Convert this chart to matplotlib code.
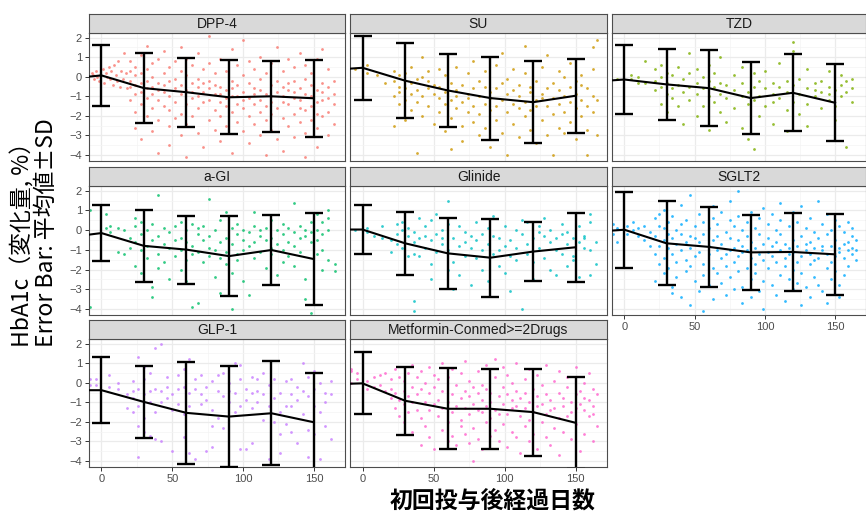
import matplotlib
matplotlib.use("Agg")
import matplotlib.pyplot as plt
import numpy as np

# ---------------- data ----------------
panels = ["DPP-4", "SU", "TZD", "a-GI", "Glinide", "SGLT2", "GLP-1", "Metformin-Conmed>=2Drugs"]
colors = ["#F8766D", "#CD9600", "#7CAE00", "#00BE67", "#00BFC4", "#00A9FF", "#C77CFF", "#FF61CC"]

bar_days = [0, 30, 60, 90, 120, 150]
line_days = [-10, 0, 30, 60, 90, 120, 150]

dpp4_mean = [0.0, 0.07, -0.58, -0.79, -1.05, -1.0, -1.1]
dpp4_sd = [1.55, 1.8, 1.77, 1.89, 1.83, 1.98]
su_mean = [0.41, 0.46, -0.2, -0.7, -1.09, -1.3, -0.97]
su_sd = [1.64, 1.93, 1.85, 2.12, 2.09, 1.9]
tzd_mean = [-0.19, -0.14, -0.39, -0.58, -1.09, -0.82, -1.33]
tzd_sd = [1.78, 1.82, 1.94, 1.86, 1.97, 1.98]
agi_mean = [-0.24, -0.15, -0.8, -0.99, -1.32, -1.01, -1.47]
agi_sd = [1.44, 1.81, 1.73, 2.03, 1.76, 2.35]
glinide_mean = [0.03, 0.03, -0.67, -1.18, -1.4, -1.09, -0.87]
glinide_sd = [1.26, 1.59, 1.79, 1.98, 1.5, 1.76]
sglt2_mean = [-0.03, 0.02, -0.67, -0.85, -1.13, -1.11, -1.23]
sglt2_sd = [1.92, 2.13, 2.02, 1.91, 1.98, 2.07]
glp1_mean = [-0.38, -0.38, -0.98, -1.54, -1.73, -1.56, -2.02]
glp1_sd = [1.68, 1.85, 2.6, 2.6, 2.67, 2.52]
metf_mean = [-0.05, -0.03, -0.92, -1.33, -1.33, -1.5, -2.05]
metf_sd = [1.59, 1.75, 2.08, 2.04, 2.23, 2.37]

# individual observations: column day positions and the values seen in each column
dpp4_cols = [-7, -6, -5, -4, -3, -2, -1, 1, 2, 3, 4, 5, 6, 7, 8, 9, 10, 11, 12, 13, 14, 15, 16, 17, 18,
             20, 24, 28, 32, 36, 40, 44, 48, 52, 56, 60, 64, 68, 72, 76, 80, 84, 88, 92, 96, 100, 104,
             108, 112, 116, 120, 124, 128, 132, 136, 140, 144, 148, 152, 156, 160, 164]
dpp4_vals = [[0.2], [0.1], [-0.1], [0.3], [0.0], [-0.2], [0.1], [0.4], [-0.3], [0.2], [0.0], [0.5], [-0.1],
             [0.3], [-0.4], [0.6], [0.1], [-0.2], [0.8], [-0.5], [0.3], [-0.1], [1.2], [0.2], [-0.6],
             [0.3, -0.5, -1.2, 0.8, -0.2], [-0.4, 0.5, -1.8, -0.9, 0.1, -2.6],
             [1.1, -0.3, -0.8, -1.4, -3.2, 0.2], [-0.6, 0.4, -1.1, -2.0, 1.6, -0.2],
             [-0.9, 0.0, -1.6, 0.7, -2.8, -0.5], [-0.3, -1.2, 0.9, -2.2, -0.7, -3.9],
             [0.2, -0.8, -1.5, 1.3, -0.4], [-1.0, -0.2, -2.5, 0.5, -1.7, -3.5],
             [-0.6, 0.8, -1.3, -0.1, -2.1], [-0.9, 0.3, -1.9, -3.0, 1.5, -0.4],
             [-0.7, -1.4, 0.1, -2.4, 0.9, -4.1], [-1.1, -0.3, -2.0, 0.6, -0.8],
             [-0.5, -1.6, 1.2, -2.9, -0.1, -1.0], [-0.8, 0.4, -1.3, -3.6, -0.3],
             [-1.2, -0.2, -2.2, 0.7, -0.6, 2.1], [-0.9, 0.2, -1.7, -2.7, -0.4],
             [-1.3, -0.5, 0.9, -2.0, -3.3, -0.9], [-0.7, -1.5, 0.3, -2.5, -1.1],
             [-1.0, -0.2, -1.8, 1.4, -3.9, -0.6], [-1.4, -0.4, 0.6, -2.3, -1.0],
             [-0.8, -1.6, 0.1, -2.8, -1.2, 1.9], [-1.1, -0.3, -2.0, 0.8, -3.4],
             [-0.6, -1.4, -2.4, 0.4, -0.9], [-1.2, -0.1, -1.8, -3.0, 1.0, -0.7],
             [-0.9, -1.5, 0.2, -2.2, -4.0], [-1.0, -0.4, -1.9, 0.7, -2.7, -1.3],
             [-0.8, -1.6, -0.2, 1.5, -3.2], [-1.3, -0.5, -2.1, 0.3, -1.0, -3.8],
             [-0.7, -1.4, 0.9, -2.5, -0.3], [-1.1, -0.2, -1.9, -3.1, 0.5, -0.8],
             [-1.2, -0.6, -2.3, 1.2, -1.6], [-0.9, -0.1, -1.7, -2.9, 0.6, -4.1],
             [-1.0, -1.5, -0.4, -2.2, 0.2], [-1.3, -0.7, -2.6, 0.9, -1.9, -3.6],
             [-0.8, -1.2, -0.3, -2.0, 1.4], [-1.1, -0.5, -1.8, -3.0, 0.4], [-0.9, -0.2, -1.4, -2.4]]

su_cols = [-5, 3, 10, 16, 22, 26, 30, 34, 38, 42, 46, 50, 54, 58, 62, 66, 70, 74, 78, 82, 86, 90, 94, 98,
           102, 106, 110, 114, 118, 122, 126, 130, 134, 138, 142, 146, 150, 154, 158, 162, 165]
su_vals = [[0.4], [0.2, 0.6], [0.1], [-0.3], [-0.2, 0.3, -1.0, -2.5], [-0.5, 0.1, -1.4, -0.8],
           [0.2, -0.6, -1.2, -2.2], [-0.3, -1.7, 0.5, -0.9], [-0.7, -0.1, -1.3, -3.9], [0.0, -1.0, -2.0, 1.0],
           [-0.6, -1.5, 0.3, -0.2], [-0.9, -2.4, -0.4], [-1.1, 0.4, -1.8, -0.5], [-0.8, -1.4, -2.8, 0.1],
           [-1.2, -0.3, -2.1, -3.7], [-0.7, -1.6, 0.5, -1.0], [-1.3, -0.4, -2.5, -3.3], [-0.9, 0.2, -1.8, -1.1],
           [-1.5, -0.6, -2.3, 0.8], [-1.0, -1.9, -3.0, -0.2], [-1.4, -0.5, -2.6, 0.3], [-1.1, -0.8, -1.7, -3.6],
           [-0.6, -1.5, 0.6, -2.2], [-1.2, -0.3, -2.9, 1.2], [-0.9, -1.8, -0.1, -4.0], [-1.4, -0.7, -2.4, 0.4],
           [-1.0, -1.6, -0.4, -3.1], [-1.3, 0.2, -2.0, 1.6], [-0.8, -1.7, -2.7, -0.5], [-1.2, -0.2, -1.5, -3.4],
           [-0.9, -2.2, 0.5, -1.1], [-1.5, -0.6, -3.0, 1.1], [-1.1, -0.3, -1.9, -4.0], [-0.7, -1.4, -2.6, 0.3],
           [-1.0, 0.0, -1.8, -2.9], [-1.3, -0.5, -2.3, 0.7], [-0.9, -1.6, -0.2, -3.2], [-1.2, -0.4, -2.0, 0.1],
           [-0.6, -1.5, -2.7, -4.0], [-1.0, 1.5, 0.4, -1.8], [-1.2, -3.0, 1.9]]

tzd_cols = [-5, 5, 10, 15, 22, 26, 30, 34, 38, 42, 46, 52, 56, 60, 64, 68, 72, 78, 84, 88, 92, 96, 100,
            106, 110, 116, 120, 124, 130, 136, 140, 146, 150, 154, 158, 162]
tzd_vals = [[-0.1], [0.1, -0.1], [0.0, -0.3], [0.8, -0.3], [-0.2, -0.7, 0.4], [-0.5, 0.0, -1.4, 0.6],
            [-0.3, -0.9, 0.2, -1.8], [0.1, -0.6, -1.1], [-0.4, 0.5, -1.5], [-0.8, -0.1, -2.4],
            [-0.5, 0.2, -1.2, 1.2], [-0.3, -0.9, 0.4, -2.0], [-0.6, -1.5, 0.0], [-0.2, -1.0, -2.7, 0.6],
            [-0.5, -1.3, 0.2], [-0.9, -0.3, -1.8, 1.0], [-0.4, -1.1, -2.3], [-0.7, 0.1, -1.6],
            [-0.3, -1.0, -2.6, 0.5], [-0.8, -1.4, -3.2], [-0.5, -1.2, 0.2, -3.7], [-1.0, -0.2, -2.0],
            [-0.6, -1.5, 0.3], [-0.9, -0.3, -2.4, -1.3], [-0.5, -1.1, 0.7], [-0.8, -0.2, -1.7, -2.8],
            [-0.4, -1.3, 1.3, 1.8], [-0.9, -0.1, -1.9], [-0.6, -1.4, 0.4, -2.5], [-0.3, -1.0, -0.7],
            [-0.8, -0.2, -1.6], [-0.5, -1.2, 0.3, -0.9], [-0.7, -1.5, -2.2], [-0.4, -1.0, 0.1],
            [-0.2, -0.8, -3.6], [-0.6, -0.1, -1.3]]

agi_cols = [-8, 3, 6, 12, 16, 20, 24, 28, 32, 36, 40, 44, 48, 52, 56, 60, 64, 68, 72, 76, 80, 84, 88, 92,
            96, 100, 104, 108, 112, 116, 120, 124, 128, 132, 136, 140, 144, 148, 152, 156, 160, 165]
agi_vals = [[-3.9, 1.0], [0.1, 0.8], [0.2, -0.1], [0.1, -1.1], [0.0, -1.2], [-0.4, -0.9],
            [0.2, -0.6, -1.8, 0.6], [-0.2, -1.0, -2.2, 0.4], [-0.8, 0.0, -1.4], [-0.5, -2.9, 0.3, -3.4],
            [-0.3, -1.2, 1.8, -1.9], [0.1, -0.7, -1.6], [-0.1, -0.9, -2.5], [0.2, -0.5, -1.3],
            [-0.4, 0.4, -1.0, -2.0], [-0.6, 0.0, -1.5, -2.6], [0.3, -0.8, -3.9, -1.2], [-0.2, -1.1, 0.1, -3.7],
            [-0.5, 0.2, -1.6], [-0.3, -0.9, 1.6, -1.3], [0.0, -1.0, -2.4], [-0.6, 0.5, -1.4, -3.2],
            [-0.4, -1.1, 0.9, -1.7], [0.1, -0.7, -2.2, -4.0], [-0.2, -1.2, 0.3, -1.5], [-0.5, 0.0, -1.0, -2.6],
            [-0.1, -0.8, -3.3], [0.2, -0.6, -1.4, 0.9], [-0.3, -1.1, 0.0], [0.1, -0.5, -1.9],
            [-0.4, 0.5, -1.2, -0.9], [0.0, -0.7, -2.3], [-0.2, -1.0, 0.3, -1.6], [-0.6, 0.1, -1.3],
            [-0.1, -0.8, 1.4, -1.8], [0.2, -0.4, -1.1], [-0.3, 0.0, -2.5, -3.5], [-0.1, -0.6, 0.4, -4.2],
            [0.0, -0.5, -1.2, 0.8], [0.4, -0.2, -1.0, -2.0], [0.6, 0.0, -1.5, 1.0], [-1.7, -2.1]]

glinide_cols = [-5, 3, 8, 14, 20, 24, 28, 32, 36, 40, 44, 48, 52, 56, 60, 64, 68, 72, 76, 80, 84, 88, 92,
                96, 100, 104, 108, 112, 116, 120, 124, 128, 132, 136, 140, 144, 148, 152, 156, 160, 164]
glinide_vals = [[0.0], [0.1, -0.1], [-0.3], [-0.4, 0.2], [-1.1, -0.5], [0.3, -0.2, -0.7], [0.4, 0.0, -0.9],
                [-0.3, -1.3, 0.1], [-0.6, -0.1, -1.2, -3.6, -4.1], [-0.4, -1.3, 0.6], [-0.9, 0.2, -0.3],
                [-0.5, 0.5, -1.7, -2.5], [-0.2, -1.1, 0.8], [-0.7, 0.0, -0.4], [-1.0, 1.5, 0.3, -2.0],
                [-0.4, -1.6, -3.0], [-0.8, -2.3, 0.2], [-0.6, -1.3, -0.1], [-0.9, -2.8, -0.3],
                [-0.5, -1.4, 0.4], [-1.0, -0.2, -2.0], [-0.7, 0.1, -2.6], [-1.2, -0.3, 0.7], [-0.4, -1.0, -1.8],
                [-0.8, 0.2, -2.2], [-0.5, -1.3, -3.1], [-0.9, 0.0, -1.5], [-0.2, -4.0, 0.5], [-0.7, -1.2, 0.4],
                [-0.4, -1.6, -2.5], [-0.9, 0.2, -0.1], [-0.3, -1.4, 0.6], [-0.6, -2.0, 0.0], [-1.0, -0.4, -2.3],
                [-0.2, -1.2, 0.3], [-0.7, -0.1, -1.8], [-0.4, -1.5, -1.3], [-0.6, 0.2, -2.4], [-0.9, -0.3, -0.4],
                [0.8, -1.0, -2.3, 0.4], [-1.7, -0.6]]

sglt2_cols = [-8, -5, 2, 6, 10, 14, 18, 22, 25, 28, 31, 34, 37, 40, 44, 47, 50, 53, 56, 60, 63, 66, 69, 72,
              75, 78, 81, 84, 87, 90, 93, 96, 99, 102, 105, 108, 111, 114, 117, 120, 123, 126, 129, 132, 135,
              138, 141, 144, 147, 150, 153, 156, 159, 162, 165]
sglt2_vals = [[0.3, -0.2], [-0.6, 0.1], [0.2, -0.2], [0.0, 0.4], [-0.3, 0.1], [0.2, -0.5], [-0.1, -0.8],
              [-0.3, 0.6, -1.2, -2.6], [0.2, -0.8, -1.7, 0.8], [-0.5, 0.1, -1.4, -2.2, 1.0],
              [-0.9, 0.4, -1.9, -0.2], [-0.4, -1.2, 0.7, -2.9, -3.2], [-0.7, 0.0, -1.6, -2.4],
              [-1.0, 0.3, -0.2, -3.4, 1.3], [-0.6, -1.5, 0.5, -2.1], [-0.9, -0.3, -1.8, -3.8, 1.8],
              [-0.4, 0.2, -1.3, -2.6], [-1.1, -0.6, 0.8, -3.1], [-0.2, -1.7, 0.4, -2.3, -4.1],
              [-0.8, -1.2, 0.1, -2.8], [-0.5, 0.6, -1.9, -3.5, 1.2], [-1.0, -0.3, -2.2, 0.3],
              [-0.7, -1.4, 0.9, -2.7], [-1.2, -0.1, -1.8, -3.3], [-0.4, 0.5, -2.4, -1.0, 1.5],
              [-0.9, -1.6, 0.2, -3.0], [-1.3, -0.5, -2.1, 0.7, 2.0], [-0.8, -1.1, 0.0, -2.9, -3.7],
              [-1.0, -0.3, -1.9, 0.4], [-1.4, -0.6, -2.5, 0.9, -3.4], [-0.9, -1.7, 0.1, -2.2],
              [-1.2, -0.2, -3.1, 0.6], [-0.7, -1.5, -2.6, 1.1, -4.0], [-1.1, -0.4, -1.9, 0.3],
              [-1.3, -0.8, -2.8, 0.8], [-0.6, -1.6, 0.0, -3.3], [-1.0, -0.2, -2.3, 0.5, 1.4],
              [-1.4, -0.7, -1.8, -3.6], [-0.9, 0.2, -2.5, -1.2], [-1.1, -0.5, -2.0, 0.9, -3.0],
              [-0.8, -1.6, 0.4, -2.7], [-1.3, -0.3, -2.2, 1.2, -3.8], [-0.7, -1.0, 0.1, -2.9],
              [-1.2, -0.6, -1.7, 0.6, -3.4], [-0.9, -1.5, -0.1, -2.4], [-1.4, -0.4, -2.8, 1.5],
              [-1.0, -0.8, 0.3, -3.1], [-1.2, -0.2, -1.9, 0.8, -3.7], [-0.8, -1.6, -2.5, 0.0],
              [-1.3, -0.5, -2.1, 0.5], [-1.1, -0.9, 0.2, -2.8, -3.4], [-0.7, -1.4, -0.1, -2.3],
              [-1.0, 0.4, -1.8, -0.6], [-0.3, -1.2, 0.1, -0.9], [-0.5, -1.5, -1.0]]

glp1_cols = [-8, -4, 5, 12, 18, 22, 26, 30, 34, 38, 42, 46, 50, 54, 58, 62, 66, 70, 74, 78, 82, 86, 90, 94,
             98, 102, 106, 110, 114, 118, 122, 126, 130, 134, 138, 142, 146, 150, 154, 158, 162]
glp1_vals = [[0.2, -0.1], [0.2, -0.1], [0.4, -0.2], [-0.3, 0.0], [-0.6, -1.3], [-0.4, 0.1, -1.5, -0.8],
             [-1.2, 1.3, -2.2, -0.3, -3.8], [0.2, -0.6, -1.8, 0.8, -2.5], [-0.4, -1.0, -2.7, 0.5],
             [1.8, -0.3, -1.5, -2.9], [2.0, -0.4, -1.0, -3.0], [-0.2, -0.8, 0.3], [-1.4, -0.6, -3.5],
             [0.4, -0.3, -1.1], [-0.2, 0.7, -2.8, -1.6], [1.2, -0.5, -3.6, -1.2], [-0.3, 0.2, -3.9],
             [0.4, -1.1, -0.6], [-0.2, -0.9, -3.5], [0.1, -1.4, -2.2, -3.3], [0.4, -0.4, -1.8],
             [0.5, -0.7, -2.3], [0.0, -1.0, -0.4], [1.0, -0.5, -1.5], [0.9, 0.2, -1.2, -3.4],
             [-0.3, -0.9, -3.4], [0.3, -0.5, -1.3, -3.1], [0.2, -1.0, -0.4], [-0.6, 0.5, -1.9],
             [-0.1, -1.2, -3.9], [0.2, -0.8, -2.0], [-0.5, -1.5, -2.6, -3.6], [-1.2, -2.1, 0.1],
             [0.2, -0.6, -2.5, -1.2], [-0.2, -0.9, -3.1], [1.0, -0.4, -1.6], [0.3, -0.7, -2.4, -3.8],
             [0.6, -0.3, -1.2, -2.6], [0.0, -1.5, -3.9], [-0.5, -1.0, -2.2], [0.1, -0.6, -2.9]]

metf_cols = [-8, -4, 3, 8, 12, 16, 20, 23, 26, 29, 32, 35, 38, 41, 44, 47, 50, 53, 56, 60, 63, 66, 69, 72,
             75, 78, 81, 84, 87, 90, 93, 96, 99, 102, 105, 108, 111, 114, 117, 120, 123, 126, 129, 132, 135,
             138, 141, 144, 147, 150, 153, 156, 159, 162, 165]
metf_vals = [[0.7, 0.6, 0.0], [0.5, 0.2], [0.1, -0.3], [0.3, -0.2], [-0.1, 0.4], [-0.4, 0.5],
             [0.2, -0.8, -0.3], [-0.5, -1.3, 0.7], [0.3, -0.9, -1.7], [-0.4, -1.1, 0.1, -2.0],
             [-0.7, 0.5, -1.5], [0.9, -0.2, -1.0, -2.5], [-0.6, -1.4, 0.3], [-0.3, -1.8, 0.6, -3.2],
             [-1.0, 0.0, -2.2], [0.8, -0.5, -1.4, -2.8], [-0.2, -1.1, 0.4, -3.4], [-0.9, -1.7, 0.2],
             [-0.4, -1.3, -2.4, 1.0], [-1.0, 0.3, -2.0, -3.0], [-0.6, -1.5, 0.7, -2.7], [-1.2, -0.1, -3.2],
             [-0.8, -1.9, 0.5, -2.2], [-1.3, -0.4, -2.6, 1.1], [-0.7, -1.6, 0.1, -3.1], [-1.1, -0.2, -2.3, -4.0],
             [-0.5, -1.4, 0.6, -2.9], [-1.5, -0.9, -0.1, -3.4], [-0.3, -1.2, 0.9, -2.0], [-1.0, -1.8, -0.5, -2.7],
             [-1.4, 0.3, -2.4, 1.2], [-0.7, -1.6, -3.0], [-1.1, -0.2, -2.1, 0.8], [-1.6, -0.6, -3.3, 0.4],
             [-0.9, -1.3, 0.0, -2.5], [-1.2, -0.4, -2.8, 1.0], [-0.8, -1.7, -3.6], [-1.3, 0.2, -2.2, -0.5],
             [-1.0, -1.9, 0.7, -3.0], [-1.5, -0.3, -2.6], [-0.7, -1.2, 0.4, -3.4], [-1.1, -2.0, -0.1],
             [-1.6, -0.6, 0.9, -2.8], [-0.9, -1.4, -3.2], [-1.3, 0.1, -2.3], [-0.5, -1.8, 0.6, -3.7],
             [-1.2, -0.8, -2.5], [-1.7, -0.2, 0.3], [-1.0, -1.5, -2.9], [-0.6, -1.3, -2.1, 0.8],
             [-1.1, -0.4, -3.5], [-1.4, -0.8, 0.0, -2.6], [-0.9, -1.7, 0.5], [-0.3, -1.2, -1.6, -3.0],
             [-0.6, -2.2]]

means = [dpp4_mean, su_mean, tzd_mean, agi_mean, glinide_mean, sglt2_mean, glp1_mean, metf_mean]
sds = [dpp4_sd, su_sd, tzd_sd, agi_sd, glinide_sd, sglt2_sd, glp1_sd, metf_sd]
pt_cols = [dpp4_cols, su_cols, tzd_cols, agi_cols, glinide_cols, sglt2_cols, glp1_cols, metf_cols]
pt_vals = [dpp4_vals, su_vals, tzd_vals, agi_vals, glinide_vals, sglt2_vals, glp1_vals, metf_vals]

x_ticks = [0, 50, 100, 150]
y_ticks = [-4, -3, -2, -1, 0, 1, 2]
ylabel_line1 = "HbA1c（変化量, %）"
ylabel_line2 = "Error Bar: 平均値±SD"
xlabel_text = "初回投与後経過日数"

# ---------------- layout ----------------
W, H = 866, 513
fig = plt.figure(figsize=(W / 100, H / 100), dpi=100)
fig.patch.set_facecolor("white")

col_px = [(89, 345), (350, 607), (612, 866)]
row_px = [(14, 33, 161), (167, 186, 315), (320, 339, 467)]  # strip top, panel top, panel bottom
border = "#4D4D4D"

for i, name in enumerate(panels):
    r, c = divmod(i, 3)
    x0, x1 = col_px[c]
    st, pt, pb = row_px[r]
    ax = fig.add_axes([x0 / W, 1 - pb / H, (x1 - x0) / W, (pb - pt) / H])
    sx = fig.add_axes([x0 / W, 1 - pt / H, (x1 - x0) / W, (pt - st) / H])

    # strip
    sx.set_facecolor("#D9D9D9")
    sx.set_xticks([]); sx.set_yticks([])
    for s in sx.spines.values():
        s.set_color(border); s.set_linewidth(0.8)
    sx.text(0.5, 0.45, name, ha="center", va="center", fontsize=10, color="#1A1A1A",
            family="Liberation Sans", transform=sx.transAxes)

    # panel
    ax.set_facecolor("white")
    ax.set_xlim(-8.8, 172)
    ax.set_ylim(-4.31, 2.24)
    ax.set_xticks(x_ticks)
    ax.set_xticks([25, 75, 125], minor=True)
    ax.set_yticks(y_ticks)
    ax.set_yticks(np.arange(-3.5, 2.0, 1.0), minor=True)
    ax.grid(which="major", color="#EBEBEB", linewidth=0.9)
    ax.grid(which="minor", color="#F4F4F4", linewidth=0.5)
    ax.set_axisbelow(True)
    for s in ax.spines.values():
        s.set_color(border); s.set_linewidth(0.8)

    xs = [d for d, v in zip(pt_cols[i], pt_vals[i]) for _ in v]
    ys = [y for v in pt_vals[i] for y in v]
    ax.scatter(xs, ys, s=4, color=colors[i], alpha=0.8, linewidths=0, zorder=2)

    ax.plot(line_days, means[i], color="black", linewidth=1.5, zorder=4)
    ax.errorbar(bar_days, means[i][1:], yerr=sds[i], fmt="none", ecolor="black",
                elinewidth=1.7, capsize=6.5, capthick=1.7, zorder=5)

    show_x = (r == 2) or (r == 1 and c == 2)
    show_y = (c == 0)
    ax.tick_params(which="major", length=3, width=0.7, color="#333333", labelsize=8,
                   labelcolor="#4D4D4D", pad=2)
    ax.tick_params(which="minor", length=0)
    ax.tick_params(axis="x", bottom=show_x, labelbottom=show_x)
    ax.tick_params(axis="y", left=show_y, labelleft=show_y)
    for lab in ax.get_xticklabels() + ax.get_yticklabels():
        lab.set_family("Liberation Sans")

cjk = ["Noto Sans CJK JP", "DejaVu Sans"]
fig.text(23 / W, 1 - 347 / H, ylabel_line1, rotation=90, ha="center", va="bottom",
         fontsize=16.5, family=cjk, color="black")
fig.text(46.5 / W, 1 - 347 / H, ylabel_line2, rotation=90, ha="center", va="bottom",
         fontsize=16.5, family=cjk, color="black")
fig.text(493 / W, 1 - 501 / H, xlabel_text, ha="center", va="center", fontsize=16.5,
         fontweight="bold", family=cjk, color="black")

fig.savefig("out.png", dpi=100, facecolor="white")
